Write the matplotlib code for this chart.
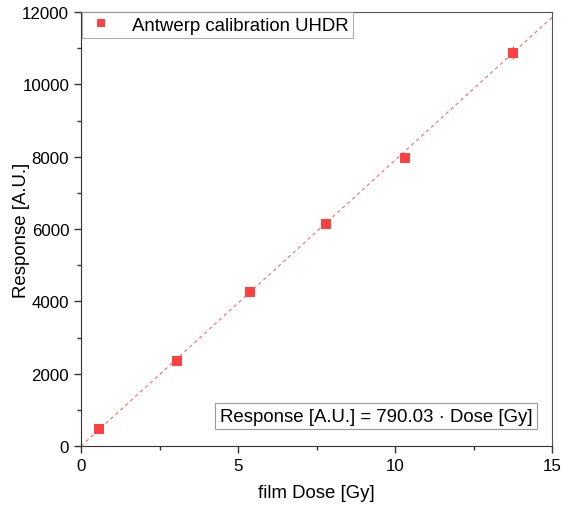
import matplotlib
matplotlib.use("Agg")
import matplotlib.pyplot as plt
import numpy as np
from matplotlib.ticker import MultipleLocator
from matplotlib.lines import Line2D

plt.rcParams['font.family'] = ['Liberation Sans', 'DejaVu Sans']

dose = [0.57, 3.06, 5.38, 7.80, 10.32, 13.76]
response = [460, 2350, 4260, 6140, 7965, 10870]
response_err = [30, 30, 40, 50, 60, 180]
slope = 790.03
fit_x = [0, 15]

fig = plt.figure(figsize=(5.62, 5.06), dpi=100)
ax = fig.add_axes([81/562, 1-447/506, 471/562, 434/506])

red = '#FF4040'
ax.plot(fit_x, [slope*v for v in fit_x], linestyle=(0, (3, 3)), color=red, lw=0.8, alpha=0.8, zorder=1)
ax.errorbar(dose, response, yerr=response_err, fmt='s', color=red, ms=6.5, mew=0,
            ecolor=red, elinewidth=0.8, capsize=3, capthick=0.8, zorder=3)

ax.set_xlim(0, 15)
ax.set_ylim(0, 12000)
ax.xaxis.set_major_locator(MultipleLocator(5))
ax.xaxis.set_minor_locator(MultipleLocator(2.5))
ax.yaxis.set_major_locator(MultipleLocator(2000))
ax.yaxis.set_minor_locator(MultipleLocator(1000))
ax.tick_params(which='major', direction='out', length=5, width=1, labelsize=12.2, color='#333333')
ax.tick_params(which='minor', direction='out', length=3, width=1, color='#333333')
for s in ['left', 'bottom']:
    ax.spines[s].set_color('#333333')
for s in ['top', 'right']:
    ax.spines[s].set_color('#555555')

ax.set_xlabel('film Dose [Gy]', fontsize=13.4, labelpad=8)
ax.set_ylabel('Response [A.U.]', fontsize=13.4)
ax.yaxis.set_label_coords((30 - 81) / 471, 0.5)

handle = Line2D([], [], marker='s', color=red, ls='none', ms=6, mew=0)
leg = ax.legend([handle], ['Antwerp calibration UHDR'], loc='upper left', bbox_to_anchor=(0.003, 1.0),
                fontsize=13.4, frameon=True, fancybox=False,
                borderaxespad=0.0, handlelength=1.5, handletextpad=0.9, borderpad=0.25)
leg.get_frame().set_edgecolor('#999999')
leg.get_frame().set_linewidth(0.8)

ax.text(0.958, 0.0685, 'Response [A.U.] = 790.03 · Dose [Gy]', transform=ax.transAxes,
        ha='right', va='center', fontsize=13.4,
        bbox=dict(boxstyle='square,pad=0.25', fc='white', ec='#999999', lw=0.8))

fig.savefig('out.png', dpi=100)
